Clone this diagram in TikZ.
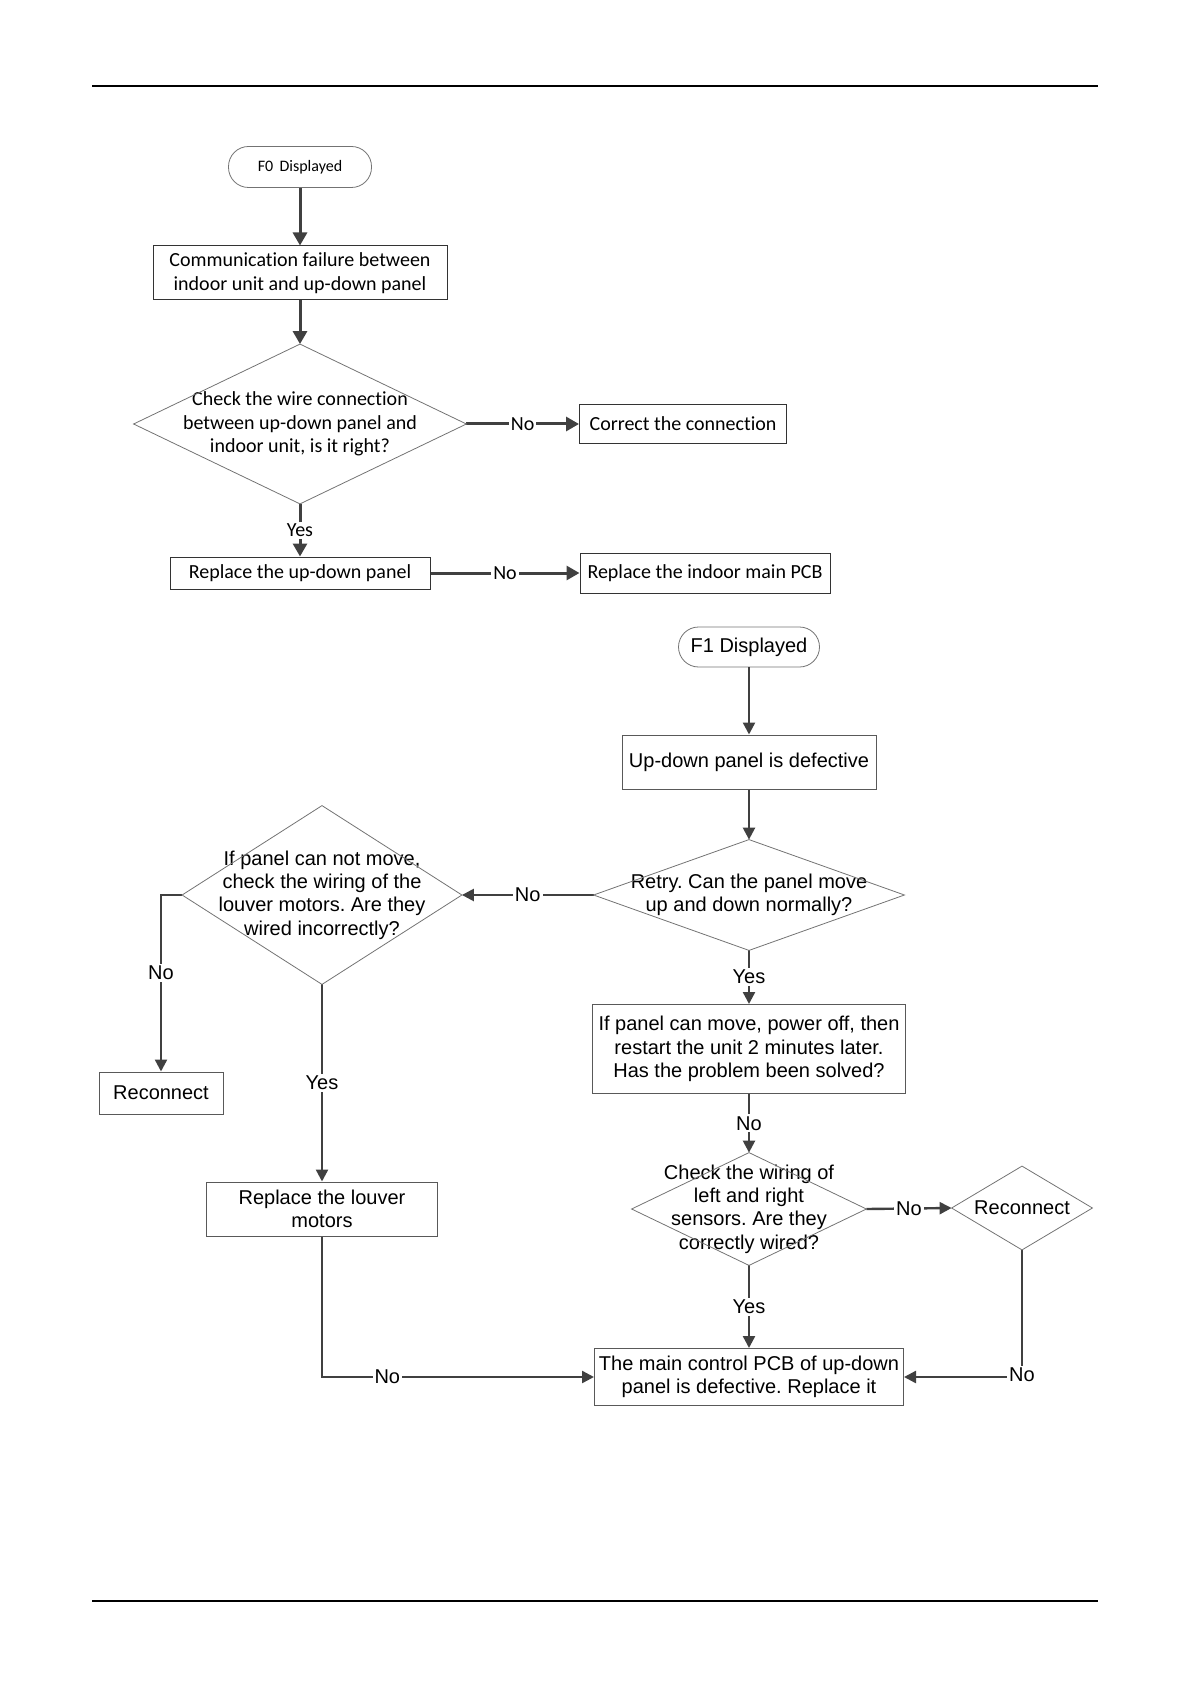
\documentclass[tikz,border=0pt]{standalone}
\usepackage{fontspec}
\newfontfamily\calfont[Ligatures=NoCommon]{Carlito}
\newfontfamily\arfont{Liberation Sans}
\frenchspacing
\usetikzlibrary{arrows.meta,positioning}

\tikzset{
  flow/.style={draw=black!75, line width=1.2pt, -{Triangle[length=6pt,width=6pt]}},
  fzero/.style={font=\calfont\fontsize{10}{11.8}\selectfont},
  fone/.style={font=\arfont\fontsize{10}{11.7}\selectfont},
  startbox/.style={draw=black!55, line width=0.4pt, rounded corners=10pt, inner sep=0pt, align=center},
  procbox/.style={draw=black!80, line width=0.5pt, inner sep=0pt, align=center},
  decbox/.style={inner sep=0pt, align=center},
  diaedge/.style={draw=black!55, line width=0.4pt},
  answer/.style={fill=white, inner sep=1pt}
}

\begin{document}
\begin{tikzpicture}[x=0.5pt, y=-0.5pt]
		\useasboundingbox (0,0) rectangle (1191,1684);
		%Page rules
		\draw[line width=0.6pt] (92,86) -- (1098,86);
		\draw[line width=0.6pt] (92,1601) -- (1098,1601);
		%F0 chart
		\begin{scope}[fzero, flow/.append style={line width=1.5pt, -{Triangle[length=6.5pt,width=7pt]}}]
		\node[startbox, font=\calfont\fontsize{8}{9.6}\selectfont, minimum width=71.5pt, minimum height=20.5pt] (fzerostart) at (300,167) {F0\ \,Displayed};
		\node[procbox, minimum width=147pt, minimum height=27pt] (commfail) at (300,273) {Communication failure between\\indoor unit and up-down panel};
		\node[decbox, minimum width=166pt, minimum height=79.5pt] (wirechk) at (300,424) {Check the wire connection\\between up-down panel and\\indoor unit, is it right?};
		\node[procbox, minimum width=103.5pt, minimum height=19.5pt] (fixconn) at (683,424) {Correct the connection};
		\node[procbox, minimum width=130pt, minimum height=16pt] (newpanel) at (300,573) {Replace the up-down panel};
		\node[procbox, minimum width=125pt, minimum height=20pt] (newpcb) at (705,573) {Replace the indoor main PCB};
		\draw[flow] (fzerostart) -- (commfail);
		\draw[flow] (commfail) -- (wirechk.north);
		\draw[flow] (wirechk.east) -- node[answer] {No} (fixconn);
		\draw[flow] (wirechk.south) -- node[answer] {Yes} (newpanel);
		\draw[flow] (newpanel) -- node[answer] {No} (newpcb);
		\end{scope}
		%F1 chart
		\begin{scope}[fone, procbox/.append style={draw=black!65}]
		\node[startbox, minimum width=70.5pt, minimum height=20pt] (fonestart) at (749,647) {F1 Displayed};
		\node[procbox, minimum width=127pt, minimum height=27pt] (paneldef) at (749,762) {Up-down panel is defective};
		\node[decbox, minimum width=155pt, minimum height=55pt] (retry) at (749,895) {Retry. Can the panel move\\up and down normally?};
		\node[decbox, minimum width=139.5pt, minimum height=89pt] (louverchk) at (322,895) {If panel can not move,\\check the wiring of the\\louver motors. Are they\\wired incorrectly?};
		\node[procbox, minimum width=62pt, minimum height=21pt] (reconleft) at (161,1093) {Reconnect};
		\node[procbox, minimum width=115.5pt, minimum height=27pt] (newlouver) at (322,1209) {Replace the louver\\motors};
		\node[procbox, minimum width=156.5pt, minimum height=44.5pt] (restart) at (749,1049) {If panel can move, power off, then\\restart the unit 2 minutes later.\\Has the problem been solved?};
		\node[decbox, minimum width=117pt, minimum height=56pt] (sensorchk) at (749,1209) {Check the wiring of\\left and right\\sensors. Are they\\correctly wired?};
		\node[decbox, minimum width=70pt, minimum height=41.5pt] (reconright) at (1022,1208) {Reconnect};
		\node[procbox, minimum width=154.5pt, minimum height=28.5pt] (maincpcb) at (749,1377) {The main control PCB of up-down\\panel is defective. Replace it};
		\draw[flow] (fonestart) -- (paneldef);
		\draw[flow] (paneldef) -- (retry.north);
		\draw[flow] (retry.west) -- node[answer] {No} (louverchk.east);
		\draw[flow] (louverchk.west) -| node[answer, pos=0.72] {No} (reconleft.north);
		\draw[flow] (louverchk.south) -- node[answer] {Yes} (newlouver.north);
		\draw[flow] (retry.south) -- node[answer] {Yes} (restart.north);
		\draw[flow] (restart.south) -- node[answer] {No} (sensorchk.north);
		\draw[flow] (sensorchk.east) -- node[answer] {No} (reconright.west);
		\draw[flow] (sensorchk.south) -- node[answer] {Yes} (maincpcb.north);
		\draw[flow] (newlouver.south) |- node[answer, pos=0.62] {No} (maincpcb.west);
		\draw[flow] (reconright.south) |- node[answer, pos=0.5, yshift=1pt] {No} (maincpcb.east);
		\end{scope}
		%Decision outlines
		\foreach \d in {wirechk,retry,louverchk,sensorchk,reconright}
			\draw[diaedge] (\d.north) -- (\d.east) -- (\d.south) -- (\d.west) -- cycle;
\end{tikzpicture}
\end{document}
